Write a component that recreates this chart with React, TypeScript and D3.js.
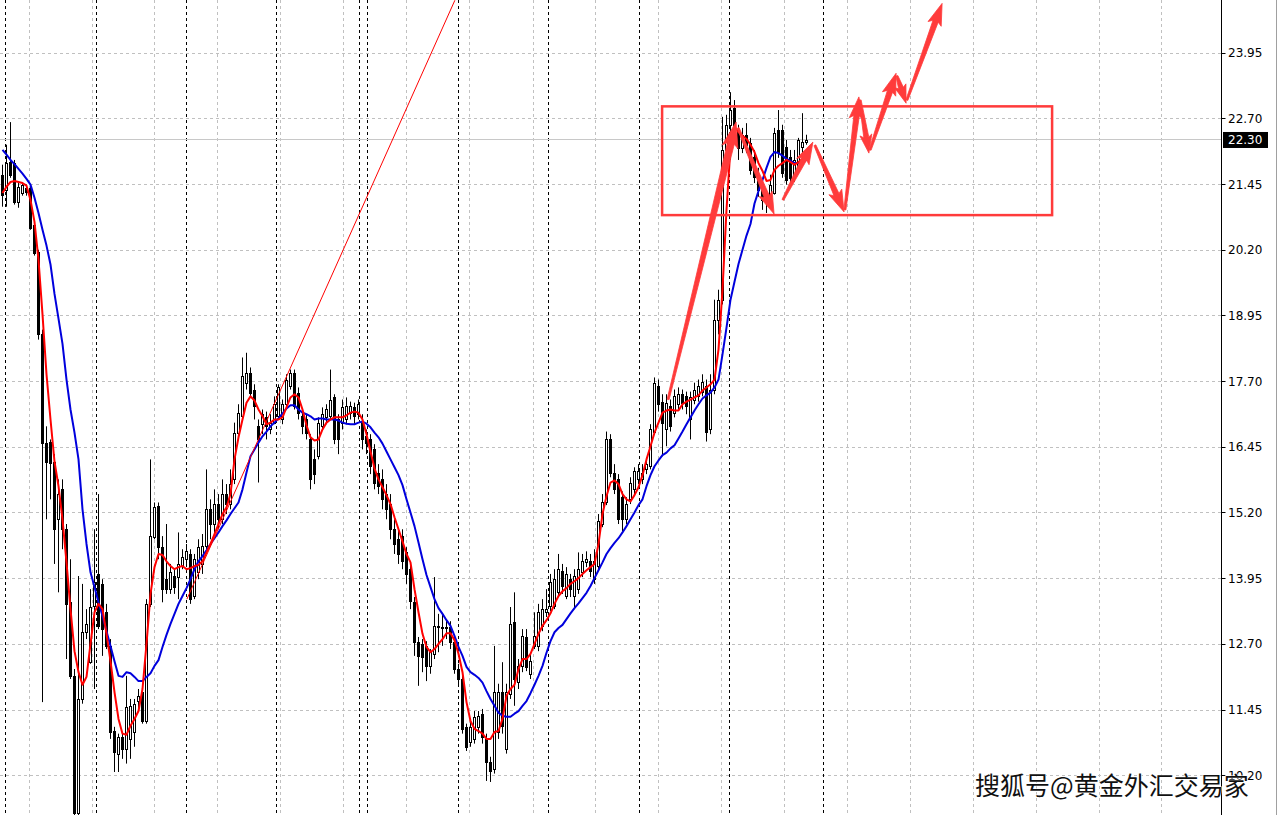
import React from 'react';
import * as d3 from 'd3';

// ---- price axis ----
const PRICE_TICKS = [23.95, 22.70, 21.45, 20.20, 18.95, 17.70, 16.45, 15.20, 13.95, 12.70, 11.45, 10.20];
const LAST_PRICE = 22.30;

// ---- time grid (in bar units) ----
const GRID_BARS = [6.75, 22.5, 38, 53.75, 69.5, 85.25, 101, 116.75, 132.75, 148.25, 164, 179.75, 195.5, 211.25, 227, 242.75, 258.5, 274.25, 289.75];
const SEPARATOR_BARS = [0.75, 23.5, 46, 68.5, 89.25, 91.25, 114, 136.5, 159.25, 181.75, 205.25];

// ---- OHLC ----
const OPEN = [
  21.64, 21.35, 21.88, 21.86, 21.12, 21.29, 21.39, 21.39, 20.69, 20.17,
  18.60, 16.54, 16.56, 16.18, 15.08, 15.65, 14.89, 13.50, 12.10, 9.48,
  11.66, 12.93, 12.36, 13.43, 14.04, 13.85, 13.31, 12.67, 11.05, 10.62,
  10.94, 10.71, 10.90, 11.03, 11.62, 11.79, 11.24, 13.47, 14.74, 15.33,
  14.55, 13.94, 13.75, 14.00, 13.98, 14.19, 14.32, 14.42, 13.62, 14.07,
  14.23, 14.57, 15.27, 14.99, 15.37, 15.08, 15.56, 15.37, 15.84, 16.73,
  17.04, 17.68, 17.87, 17.55, 16.85, 16.89, 17.02, 16.79, 16.92, 17.04,
  16.98, 17.27, 17.61, 17.87, 17.49, 17.04, 16.98, 16.60, 16.22, 16.28,
  16.85, 17.02, 17.04, 17.40, 16.98, 16.92, 16.98, 17.11, 17.21, 17.08,
  16.94, 16.66, 16.60, 16.41, 15.97, 15.84, 15.56, 15.37, 14.89, 14.70,
  14.76, 14.45, 14.13, 13.50, 12.74, 12.71, 12.67, 12.29, 12.52, 13.03,
  13.03, 13.01, 13.03, 12.74, 12.23, 12.04, 11.13, 10.84, 10.90, 11.13,
  11.38, 10.90, 10.46, 10.33, 11.03, 11.79, 10.71, 11.76, 13.12, 11.98,
  12.29, 12.84, 12.14, 12.67, 12.67, 13.05, 13.31, 13.43, 13.43, 13.69,
  14.09, 13.62, 13.94, 13.62, 13.75, 14.07, 14.26, 14.28, 13.94, 14.19,
  14.99, 15.40, 16.60, 15.97, 15.84, 15.50, 15.08, 15.46, 15.65, 15.84,
  15.84, 16.03, 16.09, 16.75, 17.61, 17.32, 16.79, 17.23, 17.11, 17.27,
  17.46, 17.42, 16.98, 17.36, 17.42, 17.51, 17.61, 16.79, 17.55, 18.88,
  19.26, 22.11, 22.59, 22.91, 22.49, 22.15, 22.40, 22.24, 21.98, 21.64,
  21.35, 21.16, 21.26, 21.29, 22.49, 22.49, 22.17, 21.98, 21.58, 21.79,
  22.17, 22.26,
];
const HIGH = [
  21.83, 22.21, 22.64, 21.92, 21.48, 21.50, 21.45, 21.43, 20.78, 20.21,
  18.69, 16.85, 16.60, 16.32, 15.84, 15.84, 14.99, 14.32, 12.23, 14.00,
  13.85, 13.37, 13.75, 14.89, 15.56, 13.94, 13.47, 12.80, 11.13, 11.00,
  11.00, 12.10, 11.66, 11.66, 11.85, 11.85, 13.56, 16.22, 15.40, 15.40,
  14.76, 14.99, 14.23, 14.13, 14.83, 14.51, 14.61, 14.51, 14.42, 14.70,
  14.80, 16.03, 15.46, 15.65, 15.56, 15.84, 15.75, 16.03, 16.92, 17.27,
  18.16, 18.25, 17.97, 17.65, 16.98, 17.17, 17.13, 17.08, 17.42, 17.65,
  17.36, 17.84, 17.93, 17.93, 17.59, 17.17, 17.08, 16.70, 16.41, 17.02,
  17.21, 17.27, 17.93, 17.46, 17.08, 17.36, 17.40, 17.32, 17.30, 17.36,
  17.08, 16.79, 16.70, 16.51, 16.13, 16.03, 15.75, 15.56, 15.08, 14.89,
  14.89, 14.55, 14.23, 13.60, 12.84, 12.80, 12.76, 12.61, 13.98, 13.28,
  13.28, 13.18, 13.14, 12.84, 12.33, 12.14, 11.19, 11.28, 11.43, 11.43,
  11.47, 11.00, 10.56, 12.67, 11.95, 12.36, 11.95, 13.41, 13.69, 12.42,
  12.99, 12.99, 12.52, 13.31, 13.47, 13.56, 13.75, 14.04, 14.13, 14.42,
  14.23, 14.17, 14.04, 14.13, 14.45, 14.42, 14.47, 14.42, 14.51, 15.18,
  15.56, 16.75, 16.70, 16.13, 15.94, 15.61, 15.50, 15.88, 16.07, 16.13,
  16.13, 16.26, 16.89, 17.78, 17.74, 17.46, 17.46, 17.36, 17.55, 17.59,
  17.55, 17.51, 17.51, 17.68, 17.74, 17.84, 17.74, 17.84, 19.26, 19.45,
  22.74, 22.78, 23.21, 23.06, 22.59, 22.53, 22.62, 22.34, 22.11, 21.77,
  21.48, 21.35, 21.64, 22.53, 22.87, 22.59, 22.30, 22.11, 22.11, 22.34,
  22.81, 22.40,
];
const LOW = [
  21.03, 21.03, 21.58, 21.07, 21.01, 21.24, 21.24, 20.59, 20.10, 18.50,
  11.60, 15.08, 15.46, 14.23, 13.69, 14.51, 12.42, 12.04, 9.00, 9.00,
  11.57, 12.80, 12.33, 11.85, 12.99, 12.48, 12.61, 10.90, 10.27, 10.27,
  10.52, 10.43, 10.52, 10.75, 11.47, 11.19, 11.19, 13.41, 14.70, 14.32,
  13.50, 13.66, 13.66, 13.66, 13.56, 14.13, 14.23, 13.47, 13.56, 13.94,
  14.04, 14.51, 14.70, 14.80, 14.89, 14.99, 15.18, 15.27, 15.75, 16.60,
  16.98, 17.55, 17.40, 16.98, 15.78, 16.70, 16.60, 16.70, 16.89, 16.98,
  16.89, 17.21, 17.55, 17.17, 16.98, 16.70, 16.60, 15.65, 15.75, 16.22,
  16.79, 16.89, 16.98, 16.51, 16.32, 16.79, 16.89, 16.98, 16.89, 16.98,
  16.41, 16.32, 15.94, 15.65, 15.56, 15.27, 15.08, 14.70, 14.42, 14.23,
  14.13, 13.85, 13.37, 12.48, 11.91, 12.17, 12.00, 12.14, 12.42, 12.55,
  12.67, 12.80, 12.61, 12.14, 11.89, 11.00, 10.67, 10.75, 10.81, 11.00,
  10.81, 10.10, 10.08, 10.24, 10.90, 11.00, 10.62, 11.66, 11.53, 11.85,
  12.17, 12.19, 12.04, 12.61, 12.57, 12.95, 13.22, 13.33, 13.37, 13.60,
  13.66, 13.56, 13.60, 13.37, 13.66, 13.98, 14.17, 13.98, 13.85, 14.13,
  14.93, 15.35, 15.88, 15.56, 14.99, 14.85, 14.99, 15.37, 15.56, 15.75,
  15.75, 15.94, 16.03, 16.70, 17.13, 16.28, 16.47, 16.75, 17.02, 17.17,
  17.17, 17.08, 16.60, 17.27, 17.32, 17.42, 16.56, 16.70, 17.46, 18.60,
  19.17, 21.92, 21.92, 22.40, 21.92, 22.05, 22.05, 21.64, 21.48, 21.22,
  20.97, 20.91, 21.07, 21.26, 21.96, 21.58, 21.45, 21.48, 21.50, 21.73,
  22.02, 22.21,
];
const CLOSE = [
  21.26, 21.86, 21.64, 21.12, 21.41, 21.45, 21.31, 20.63, 20.15, 18.60,
  16.54, 16.18, 16.16, 14.89, 15.56, 14.89, 13.47, 12.10, 9.48, 11.66,
  12.93, 13.09, 13.41, 13.88, 13.05, 12.99, 12.67, 11.03, 10.65, 10.94,
  10.71, 11.51, 11.53, 11.57, 11.72, 11.24, 13.47, 14.76, 15.31, 14.55,
  13.75, 13.75, 14.07, 13.79, 14.23, 14.36, 14.47, 13.56, 14.32, 14.55,
  14.57, 15.27, 14.99, 15.37, 15.08, 15.56, 15.37, 15.75, 16.73, 17.11,
  17.80, 17.87, 17.49, 17.23, 16.60, 17.08, 16.85, 16.92, 17.27, 17.59,
  17.27, 17.74, 17.87, 17.23, 17.11, 16.85, 16.73, 15.84, 15.94, 16.92,
  17.08, 17.17, 17.36, 16.60, 16.60, 17.21, 17.23, 17.23, 17.04, 17.27,
  16.60, 16.54, 16.09, 15.78, 15.71, 15.46, 15.27, 14.89, 14.61, 14.42,
  14.28, 14.04, 13.52, 12.74, 12.48, 12.46, 12.29, 12.57, 13.05, 13.05,
  13.01, 13.03, 12.74, 12.23, 12.04, 11.09, 10.75, 11.13, 11.32, 11.34,
  10.94, 10.46, 10.29, 11.79, 11.79, 11.15, 11.79, 13.09, 12.04, 12.29,
  12.86, 12.27, 12.38, 12.86, 13.31, 13.37, 13.37, 13.88, 13.94, 14.13,
  13.81, 14.04, 13.75, 14.00, 14.13, 14.28, 14.32, 14.09, 14.28, 15.04,
  15.40, 16.60, 15.97, 15.65, 15.08, 15.08, 15.37, 15.78, 15.99, 15.99,
  15.97, 16.13, 16.79, 17.68, 17.27, 16.92, 17.30, 16.85, 17.42, 17.46,
  17.30, 17.23, 17.40, 17.55, 17.61, 17.70, 16.75, 17.55, 18.88, 19.26,
  22.11, 22.59, 22.87, 22.49, 22.15, 22.40, 22.21, 21.73, 21.60, 21.35,
  21.16, 21.26, 21.45, 22.43, 22.07, 21.67, 21.54, 21.58, 21.92, 22.30,
  22.26, 22.30,
];

// ---- moving averages ----
const MA_FAST = [
  21.29, 21.41, 21.50, 21.52, 21.50, 21.48, 21.43, 21.16, 20.74, 20.02,
  18.98, 17.84, 16.98, 16.18, 15.71, 15.08, 14.26, 13.37, 12.57, 12.17,
  11.93, 12.08, 12.71, 13.31, 13.47, 13.37, 12.90, 12.38, 11.79, 11.28,
  11.00, 10.98, 11.15, 11.28, 11.43, 11.85, 12.71, 13.66, 14.17, 14.42,
  14.40, 14.28, 14.19, 14.13, 14.17, 14.19, 14.13, 14.15, 14.19, 14.21,
  14.28, 14.45, 14.61, 14.80, 14.99, 15.18, 15.31, 15.56, 16.22, 16.64,
  16.98, 17.30, 17.42, 17.34, 17.17, 17.04, 16.89, 16.92, 16.98, 16.98,
  17.02, 17.21, 17.40, 17.46, 17.40, 17.17, 16.87, 16.64, 16.58, 16.60,
  16.79, 16.92, 16.98, 17.02, 17.02, 17.02, 17.06, 17.11, 17.13, 17.11,
  16.98, 16.70, 16.37, 16.05, 15.84, 15.69, 15.54, 15.37, 15.12, 14.89,
  14.66, 14.42, 14.26, 13.75, 13.31, 12.90, 12.65, 12.55, 12.61, 12.71,
  12.80, 12.91, 12.91, 12.78, 12.52, 12.17, 11.60, 11.24, 11.09, 11.05,
  11.00, 10.90, 10.90, 11.03, 11.05, 11.28, 11.72, 11.85, 11.93, 12.23,
  12.42, 12.42, 12.52, 12.71, 12.90, 13.05, 13.16, 13.29, 13.47, 13.62,
  13.71, 13.77, 13.85, 13.90, 13.96, 14.04, 14.11, 14.17, 14.23, 14.61,
  15.18, 15.52, 15.78, 15.82, 15.75, 15.56, 15.46, 15.42, 15.54, 15.69,
  15.92, 16.22, 16.47, 16.73, 16.92, 17.11, 17.15, 17.17, 17.15, 17.15,
  17.27, 17.32, 17.36, 17.40, 17.44, 17.53, 17.59, 17.65, 17.74, 18.31,
  19.45, 20.97, 22.17, 22.55, 22.45, 22.38, 22.32, 22.21, 22.07, 21.86,
  21.71, 21.52, 21.54, 21.73, 21.81, 21.86, 21.92, 21.88, 21.83, 21.88,
  21.94, 21.98,
];
const MA_SLOW = [
  22.11, 22.02, 21.92, 21.84, 21.75, 21.66, 21.56, 21.45, 21.20, 20.91,
  20.59, 20.29, 19.93, 19.37, 18.90, 18.42, 17.74, 17.17, 16.73, 16.22,
  15.27, 14.61, 14.07, 13.79, 13.50, 13.24, 12.95, 12.67, 12.38, 12.10,
  12.08, 12.17, 12.15, 12.08, 12.00, 12.00, 12.08, 12.15, 12.29, 12.40,
  12.65, 12.88, 13.09, 13.28, 13.47, 13.62, 13.77, 13.94, 14.13, 14.28,
  14.38, 14.49, 14.61, 14.72, 14.83, 14.95, 15.06, 15.18, 15.29, 15.40,
  15.65, 15.97, 16.28, 16.41, 16.54, 16.66, 16.75, 16.85, 16.92, 17.00,
  17.09, 17.19, 17.25, 17.25, 17.17, 17.11, 17.08, 17.04, 16.98, 17.00,
  17.00, 16.98, 16.98, 16.98, 16.96, 16.92, 16.90, 16.89, 16.89, 16.92,
  16.94, 16.90, 16.83, 16.73, 16.64, 16.52, 16.37, 16.22, 16.07, 15.92,
  15.73, 15.46, 15.21, 14.95, 14.64, 14.32, 14.02, 13.79, 13.56, 13.39,
  13.28, 13.16, 13.05, 12.86, 12.65, 12.48, 12.27, 12.17, 12.12, 12.06,
  11.97, 11.81, 11.66, 11.53, 11.40, 11.34, 11.32, 11.32, 11.38, 11.43,
  11.53, 11.62, 11.77, 11.93, 12.10, 12.29, 12.54, 12.76, 12.93, 13.01,
  13.07, 13.18, 13.29, 13.39, 13.48, 13.58, 13.68, 13.81, 13.96, 14.11,
  14.26, 14.42, 14.53, 14.63, 14.72, 14.83, 14.95, 15.08, 15.21, 15.35,
  15.46, 15.71, 15.92, 16.09, 16.20, 16.30, 16.35, 16.43, 16.49, 16.62,
  16.75, 16.89, 17.02, 17.15, 17.27, 17.38, 17.44, 17.49, 17.59, 17.74,
  18.22, 18.73, 19.26, 19.60, 19.94, 20.21, 20.48, 20.70, 21.09, 21.33,
  21.54, 21.77, 21.98, 22.07, 22.05, 22.00, 21.94, 21.90, 21.86, 21.86,
  21.88, 21.92,
];

// ---- annotations (bar index / price) ----
const TREND_BARS = [46.1, 113.1];
const TREND_PRICES = [13.56, 24.96];
const BOX_BARS = [164.9, 262.4];
const BOX_PRICES = [22.94, 20.87];
const ARROW_FROM_BAR = [166.4, 183.9, 195.1, 203.1, 210.6, 214.4, 216.9, 223.6, 226.1];
const ARROW_FROM_PRICE = [17.36, 22.53, 21.16, 22.20, 20.97, 23.06, 22.11, 23.52, 23.06];
const ARROW_TO_BAR = [183.4, 192.9, 202.6, 210.4, 214.1, 216.6, 223.4, 225.9, 234.9];
const ARROW_TO_PRICE = [22.64, 20.89, 22.26, 20.93, 23.12, 22.05, 23.57, 23.00, 24.90];
const ARROW_SIZE = ['big', 'mid', 'mid', 'mid', 'mid', 'small', 'mid', 'small', 'mid'];

const WATERMARK = '搜狐号@黄金外汇交易家';

function arrowPath(x1: number, y1: number, x2: number, y2: number, tailW: number, shaftW: number, headLen: number, headW: number) {
  const dx = x2 - x1, dy = y2 - y1;
  const len = Math.hypot(dx, dy);
  const ux = dx / len, uy = dy / len;
  const nx = -uy, ny = ux;
  const bx = x2 - ux * headLen, by = y2 - uy * headLen;
  const back = headLen * 0.15;
  const pts = [
    [x1 + nx * tailW / 2, y1 + ny * tailW / 2],
    [bx + nx * shaftW / 2, by + ny * shaftW / 2],
    [bx + nx * headW / 2 - ux * back, by + ny * headW / 2 - uy * back],
    [x2, y2],
    [bx - nx * headW / 2 - ux * back, by - ny * headW / 2 - uy * back],
    [bx - nx * shaftW / 2, by - ny * shaftW / 2],
    [x1 - nx * tailW / 2, y1 - ny * tailW / 2],
  ];
  return 'M' + pts.map(p => p[0].toFixed(2) + ',' + p[1].toFixed(2)).join('L') + 'Z';
}

export default function App() {
  const W = 1280, H = 815;
  const axisX = 1221.5;
  const x = d3.scaleLinear().domain([0, 305]).range([2.5, 1222.5]);
  const y = d3.scaleLinear().domain([23.95, 11.45]).range([53.3, 710]);
  const px = (v: number) => Math.floor(v) + 0.5;

  const idx = d3.range(CLOSE.length);
  const fastLine = d3.line<number>().x(i => x(i)).y(i => y(MA_FAST[i]))(idx) || '';
  const slowLine = d3.line<number>().x(i => x(i)).y(i => y(MA_SLOW[i]))(idx) || '';

  const arrowDims: Record<string, number[]> = {
    big: [2, 7, 22, 16],
    mid: [2, 5.5, 19, 14],
    small: [2, 5, 16, 12],
  };
  const red = '#ff3b3b';

  return (
    <div style={{ position: 'absolute', left: 0, top: 0, width: W, height: H, background: '#fff' }}>
      <svg width={W} height={H} style={{ display: 'block' }} fontFamily="DejaVu Sans, sans-serif">
        <defs>
          <clipPath id="plot">
            <rect x={0} y={0} width={axisX} height={H} />
          </clipPath>
        </defs>
        <rect x={0} y={0} width={W} height={H} fill="#ffffff" />
        <g clipPath="url(#plot)">
          {/* horizontal grid */}
          {PRICE_TICKS.map(t => (
            <line key={'h' + t} x1={0} x2={axisX} y1={px(y(t))} y2={px(y(t))} stroke="#c0c0c0" strokeDasharray="3,3" />
          ))}
          {/* vertical grid */}
          {GRID_BARS.map(b => (
            <line key={'v' + b} x1={px(x(b))} x2={px(x(b))} y1={0} y2={H} stroke="#c0c0c0" strokeDasharray="3,3" />
          ))}
          {/* period separators */}
          {SEPARATOR_BARS.map(b => (
            <line key={'s' + b} x1={px(x(b))} x2={px(x(b))} y1={0} y2={H} stroke="#000" strokeDasharray="3,3" />
          ))}
          {/* bid line */}
          <line x1={0} x2={axisX} y1={px(y(LAST_PRICE))} y2={px(y(LAST_PRICE))} stroke="#c8c8c8" strokeWidth={1} />

          {/* candles */}
          {idx.map(i => {
            const c = px(x(i));
            const o = OPEN[i], cl = CLOSE[i];
            const bull = cl >= o;
            const top = Math.round(y(Math.max(o, cl))) + 0.5;
            let bot = Math.round(y(Math.min(o, cl))) + 0.5;
            if (bot - top < 1) bot = top + 1;
            return (
              <g key={'c' + i}>
                <line x1={c} x2={c} y1={y(HIGH[i])} y2={y(LOW[i])} stroke="#000" strokeWidth={1} />
                <rect x={c - 1} y={top} width={2} height={bot - top} fill={bull ? '#fff' : '#000'} stroke="#000" strokeWidth={1} />
              </g>
            );
          })}

          {/* moving averages */}
          <path d={slowLine} fill="none" stroke="#0000dd" strokeWidth={2} strokeLinejoin="round" />
          <path d={fastLine} fill="none" stroke="#ff0000" strokeWidth={2} strokeLinejoin="round" />

          {/* trend line */}
          <line x1={x(TREND_BARS[0])} y1={y(TREND_PRICES[0])} x2={x(TREND_BARS[1])} y2={y(TREND_PRICES[1])} stroke="#ff0000" strokeWidth={1} />

          {/* box */}
          <rect x={x(BOX_BARS[0])} y={y(BOX_PRICES[0])} width={x(BOX_BARS[1]) - x(BOX_BARS[0])} height={y(BOX_PRICES[1]) - y(BOX_PRICES[0])} fill="none" stroke={red} strokeWidth={2.5} />

          {/* arrows */}
          {ARROW_FROM_BAR.map((b, k) => {
            const d = arrowDims[ARROW_SIZE[k]];
            return (
              <path key={'a' + k}
                d={arrowPath(x(b), y(ARROW_FROM_PRICE[k]), x(ARROW_TO_BAR[k]), y(ARROW_TO_PRICE[k]), d[0], d[1], d[2], d[3])}
                fill={red} stroke={red} strokeWidth={0.8} strokeLinejoin="round" />
            );
          })}
        </g>

        {/* price axis */}
        <line x1={axisX} x2={axisX} y1={0} y2={H} stroke="#000" strokeWidth={1} />
        {PRICE_TICKS.map(t => (
          <g key={'t' + t}>
            <line x1={axisX} x2={axisX + 4} y1={px(y(t))} y2={px(y(t))} stroke="#000" />
            <text x={1228} y={y(t)} dominantBaseline="central" fontSize={12} fill="#000">{t.toFixed(2)}</text>
          </g>
        ))}
        <rect x={1223} y={y(LAST_PRICE) - 8} width={45} height={16} fill="#000" />
        <text x={1228} y={y(LAST_PRICE)} dominantBaseline="central" fontSize={12} fill="#fff">{LAST_PRICE.toFixed(2)}</text>

        {/* window edge */}
        <line x1={1276.5} x2={1276.5} y1={0} y2={H} stroke="#a0a0a0" />

        {/* watermark */}
        <text x={975} y={795} fontFamily="Noto Sans CJK SC" fontSize={25} fill="#111" stroke="#fff" strokeWidth={1.2} paintOrder="stroke">{WATERMARK}</text>
      </svg>
    </div>
  );
}
